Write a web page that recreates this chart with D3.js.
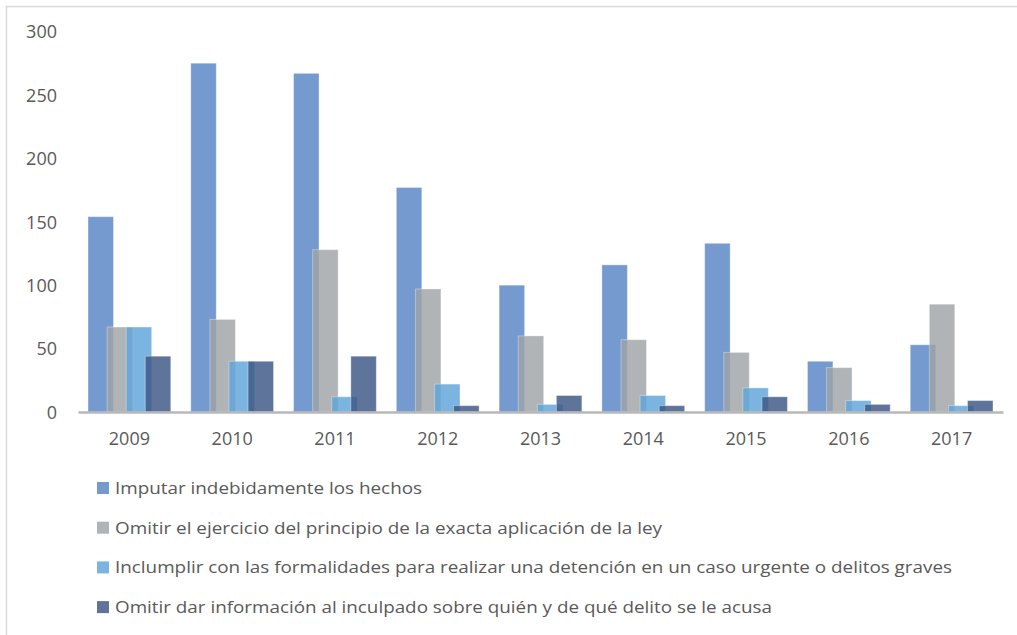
<!DOCTYPE html>
<html>
<head>
<meta charset="utf-8">
<script src="https://cdn.jsdelivr.net/npm/d3@7"></script>
<style>
    body { margin: 0; background: #fff; }
    text { font-family: "Open Sans", "Noto Sans", sans-serif; fill: #595959; }
</style>
</head>
<body>
<script>
//chart data
var years = ["2009", "2010", "2011", "2012", "2013", "2014", "2015", "2016", "2017"];
var seriesNames = [
    "Imputar indebidamente los hechos",
    "Omitir el ejercicio del principio de la exacta aplicación de la ley",
    "Inclumplir con las formalidades para realizar una detención en un caso urgente o delitos graves",
    "Omitir dar información al inculpado sobre quién y de qué delito se le acusa"
];
var imputar = [154, 275, 267, 177, 100, 116, 133, 40, 53];
var omitirEjercicio = [67, 73, 128, 97, 60, 57, 47, 35, 85];
var incumplir = [67, 40, 12, 22, 6, 13, 19, 9, 5];
var omitirInfo = [44, 40, 44, 5, 13, 5, 12, 6, 9];
var yTicks = [0, 50, 100, 150, 200, 250, 300];

var seriesValues = [imputar, omitirEjercicio, incumplir, omitirInfo];
var colors = ["#5584c6", "#9fa3a6", "#5ea3db", "#3c5684"];

window.onload = drawChart();

function drawChart(){

    var width = 1017;
    var height = 635;

    var svg = d3.select("body")
        .append("svg")
        .attr("width", width)
        .attr("height", height);

    //frame lines (only top and left show in the picture)
    svg.append("path")
        .attr("d", "M6.5,635 V6.5 H1017")
        .style("fill", "none")
        .style("stroke", "#d9d9d9")
        .style("stroke-width", "1.5px");

    //scales
    var x0 = d3.scaleBand()
        .domain(years)
        .range([78, 1003])
        .paddingInner(0.195)
        .paddingOuter(0.0975);

    var barWidth = x0.bandwidth() / 3.25; //25% overlap between bars

    var x1 = d3.scalePoint()
        .domain(d3.range(seriesNames.length))
        .range([0, x0.bandwidth() - barWidth]);

    var y = d3.scaleLinear()
        .domain([0, 300])
        .range([412, 31.5]);

    //y tick labels, no axis line
    var yAxis = d3.axisLeft(y)
        .tickValues(yTicks)
        .tickSize(0)
        .tickPadding(0);

    var yG = svg.append("g")
        .attr("transform", "translate(57,0)")
        .call(yAxis);
    yG.select(".domain").remove();
    yG.selectAll("text")
        .attr("dy", "0.35em")
        .style("font-size", "18px");

    //bars, one series after the other so later ones sit on top
    seriesValues.forEach(function(vals, i){
        svg.append("g")
            .attr("class", "series s" + i)
            .selectAll("rect")
            .data(vals)
            .enter()
            .append("rect")
            .attr("x", function(d, j){ return x0(years[j]) + x1(i); })
            .attr("y", function(d){ return y(d); })
            .attr("width", barWidth)
            .attr("height", function(d){ return y(0) - y(d); })
            .style("fill", colors[i])
            .style("fill-opacity", 0.82)
            .style("stroke", "#ffffff")
            .style("stroke-opacity", 0.35)
            .style("stroke-width", "1px");
    });

    //category axis
    var xAxis = d3.axisBottom(x0)
        .tickSize(0)
        .tickPadding(0);

    var xG = svg.append("g")
        .attr("transform", "translate(0," + y(0) + ")")
        .call(xAxis);
    xG.select(".domain")
        .style("stroke", "#b8b8b8")
        .style("stroke-width", "2.5px");
    xG.selectAll("text")
        .attr("y", 33)
        .attr("dy", 0)
        .style("font-size", "18px");

    //legend, one item per line
    var legend = svg.selectAll(".legend")
        .data(seriesNames)
        .enter()
        .append("g")
        .attr("class", "legend")
        .attr("transform", function(d, i){ return "translate(97," + (494 + i * 39.7) + ")"; });

    legend.append("rect")
        .attr("x", 0)
        .attr("y", -12)
        .attr("width", 12)
        .attr("height", 12)
        .style("fill", function(d, i){ return colors[i]; })
        .style("fill-opacity", 0.82);

    var legendWidths = [307, 547, 837, 657];
    legend.append("text")
        .attr("x", 18)
        .attr("y", 0)
        .attr("textLength", function(d, i){ return legendWidths[i]; })
        .attr("lengthAdjust", "spacingAndGlyphs")
        .style("font-size", "17px")
        .text(function(d){ return d; });
};
</script>
</body>
</html>
